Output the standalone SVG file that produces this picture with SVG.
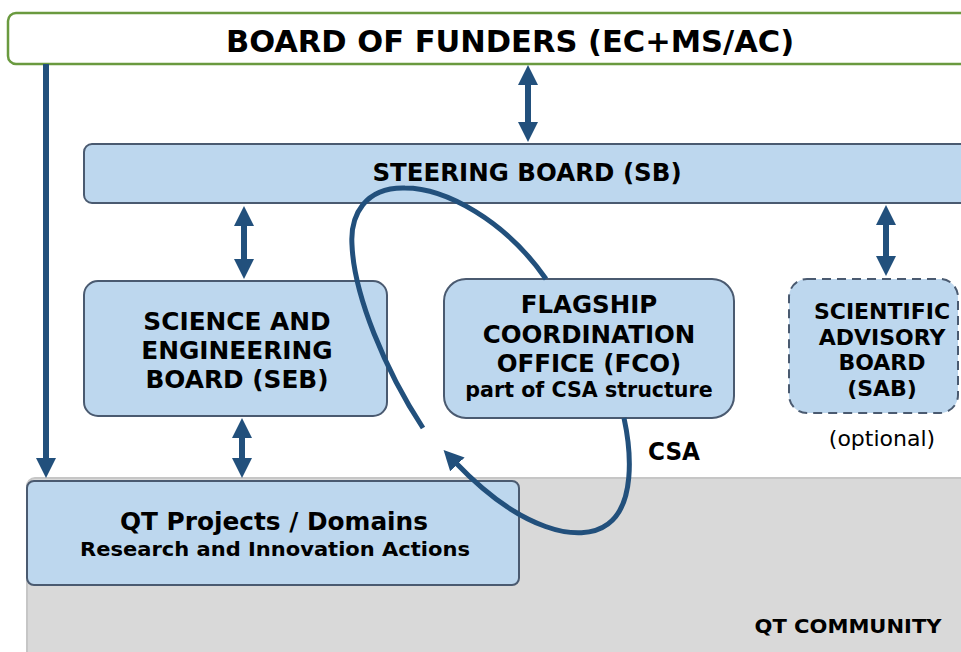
<svg xmlns="http://www.w3.org/2000/svg" width="961" height="652" viewBox="0 0 961 652">
<defs>
<style>
.box{fill:#bdd7ee;stroke:#4a5a70;stroke-width:2}
.t{font-family:"DejaVu Sans",Verdana,sans-serif;font-weight:bold;fill:#000;text-anchor:middle}
.c{font-family:"DejaVu Sans Condensed","DejaVu Sans",sans-serif;font-weight:bold;fill:#000;text-anchor:middle}
.ln{fill:none;stroke:#22507c;stroke-width:6}
.cv{fill:none;stroke:#22507c;stroke-width:5}
</style>
<marker id="ah" markerUnits="userSpaceOnUse" markerWidth="20" markerHeight="20" refX="2" refY="10" orient="auto-start-reverse" viewBox="0 0 20 20">
<path d="M0,0 L20,10 L0,20 z" fill="#22507c"/>
</marker>
</defs>
<rect width="961" height="652" fill="#fff"/>
<g id="community">
<rect x="27" y="478" width="950" height="190" rx="8" fill="#d9d9d9" stroke="#c6c6c6" stroke-width="2"/>
<text class="c" x="848" y="633" font-size="19" textLength="187" lengthAdjust="spacingAndGlyphs">QT COMMUNITY</text>
</g>
<g id="funders">
<rect x="8" y="13" width="975" height="51" rx="8" fill="#fff" stroke="#6a9a3f" stroke-width="2.5"/>
<text class="t" x="510" y="52" font-size="30.5">BOARD OF FUNDERS (EC+MS/AC)</text>
</g>
<g id="steering">
<rect class="box" x="84" y="144" width="900" height="59" rx="8"/>
<text class="t" x="527" y="181" font-size="24.5">STEERING BOARD (SB)</text>
</g>
<g id="seb">
<rect class="box" x="84" y="281" width="303" height="135" rx="14"/>
<text class="t" x="237" y="330" font-size="24.8">SCIENCE AND</text>
<text class="t" x="237" y="359" font-size="24.8">ENGINEERING</text>
<text class="t" x="237" y="388" font-size="24.8">BOARD (SEB)</text>
</g>
<g id="fco">
<rect class="box" x="444" y="279" width="290" height="139" rx="22"/>
<text class="t" x="589" y="313" font-size="24.5">FLAGSHIP</text>
<text class="t" x="589" y="343" font-size="24.5">COORDINATION</text>
<text class="t" x="589" y="372" font-size="24.5">OFFICE (FCO)</text>
<text class="t" x="589" y="397" font-size="20.6">part of CSA structure</text>
</g>
<g id="sab">
<rect class="box" x="789" y="279" width="169" height="134" rx="18" stroke-dasharray="9,6"/>
<text class="t" x="882" y="319" font-size="22">SCIENTIFIC</text>
<text class="t" x="882" y="345" font-size="22">ADVISORY</text>
<text class="t" x="882" y="370" font-size="22">BOARD</text>
<text class="t" x="882" y="396" font-size="22">(SAB)</text>
<text x="882" y="446" font-size="22" text-anchor="middle" font-family="'DejaVu Sans',Verdana,sans-serif" fill="#000">(optional)</text>
</g>
<g id="projects">
<rect class="box" x="27" y="481" width="492" height="104" rx="7"/>
<text class="c" x="274" y="530" font-size="25" textLength="308" lengthAdjust="spacingAndGlyphs">QT Projects / Domains</text>
<text class="c" x="275" y="556" font-size="19" textLength="390" lengthAdjust="spacingAndGlyphs">Research and Innovation Actions</text>
</g>
<g id="connectors">
<line class="ln" x1="46" y1="64" x2="46" y2="460" marker-end="url(#ah)"/>
<line class="ln" x1="528" y1="83" x2="528" y2="124" marker-start="url(#ah)" marker-end="url(#ah)"/>
<line class="ln" x1="244" y1="224" x2="244" y2="261" marker-start="url(#ah)" marker-end="url(#ah)"/>
<line class="ln" x1="886" y1="223" x2="886" y2="258" marker-start="url(#ah)" marker-end="url(#ah)"/>
<line class="ln" x1="242" y1="436" x2="242" y2="460" marker-start="url(#ah)" marker-end="url(#ah)"/>
<path class="cv" d="M546,279 C505,220 445,188 405,188 C365,187 350,215 352,245 C354,295 385,370 423,428"/>
<path class="cv" d="M624,418 C632,455 634,505 608,524 C580,545 520,530 456,463" marker-end="url(#ah)"/>
<text class="c" x="674" y="460" font-size="24" textLength="52" lengthAdjust="spacingAndGlyphs">CSA</text>
</g>
</svg>
